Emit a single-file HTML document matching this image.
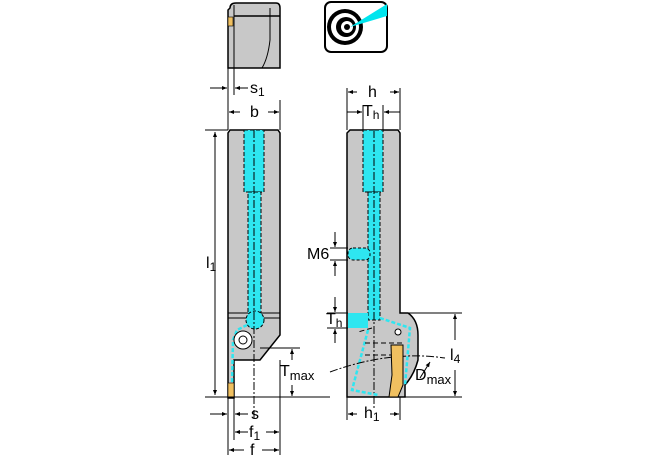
<!DOCTYPE html>
<html><head><meta charset="utf-8"><style>
html,body{margin:0;padding:0;background:#fff;width:670px;height:460px;overflow:hidden}
svg{display:block}
text{font-family:"Liberation Sans",sans-serif;fill:#000}
</style></head><body>
<svg width="670" height="460" viewBox="0 0 670 460" xmlns="http://www.w3.org/2000/svg">
<defs>
<marker id="a" viewBox="0 0 10 10" refX="10" refY="5" markerWidth="7" markerHeight="5" orient="auto-start-reverse"><path d="M0,1 L10,5 L0,9z" fill="#000"/></marker>
</defs>
<g stroke="#000" stroke-width="1" fill="none">
<path d="M230,8 Q230,3 236,3 L276,3 Q280,3 280,8 L280,68 L228,68 L228,10z" fill="#c8c8c8" stroke-width="1.5"/>
<line x1="234" y1="5" x2="234" y2="68"/>
<line x1="234" y1="16" x2="280" y2="16" stroke-width="1.5"/>
<path d="M270,8 L270,40 Q268,58 262,68"/>
<rect x="228" y="17" width="5" height="9" fill="#f0c060" stroke-width="0.6"/>
<rect x="325" y="2" width="62" height="50" rx="6" fill="#fff" stroke-width="2"/>
<circle cx="345" cy="27" r="18" fill="#000" stroke="none"/>
<circle cx="345" cy="27" r="14" fill="#fff" stroke="none"/>
<circle cx="346" cy="27" r="10" fill="#000" stroke="none"/>
<circle cx="347" cy="27" r="6" fill="#fff" stroke="none"/>
<circle cx="347" cy="27" r="3" fill="#000" stroke="none"/>
<path d="M350,27 L387,4 L387,16z" fill="#00e5ee" stroke="none"/>

<path d="M230,130 L278,130 L280,133 L280,335 L260,360 L234,360 L234,398 L228,398 L228,133z" fill="#c8c8c8" stroke-width="1.5"/>
<line x1="228" y1="313" x2="280" y2="313"/><line x1="228" y1="318" x2="280" y2="318"/>
<rect x="244" y="130" width="20" height="62" fill="#2ee6f0" stroke-dasharray="4,2"/>
<rect x="248" y="192" width="13" height="122" fill="#2ee6f0" stroke-dasharray="4,2"/>
<circle cx="255" cy="320" r="9" fill="#2ee6f0" stroke-dasharray="3,2"/>
<line x1="254" y1="130" x2="254" y2="420" stroke-dasharray="8,2,2,2"/>
<path d="M247,325 L237,330 L233,340 L232,385" stroke="#2ee6f0" stroke-width="2.5" stroke-dasharray="4,2"/>
<circle cx="243" cy="340" r="9" fill="#fff"/><circle cx="243" cy="340" r="4" fill="#fff"/>
<rect x="228" y="383" width="6" height="14" fill="#f0c060" stroke-width="0.6"/>

<line x1="205" y1="130" x2="228" y2="130"/><line x1="205" y1="397" x2="330" y2="397"/>
<line x1="215" y1="132" x2="215" y2="395" marker-start="url(#a)" marker-end="url(#a)"/>
<line x1="228" y1="68" x2="228" y2="130"/><line x1="234" y1="68" x2="234" y2="95"/><line x1="280" y1="100" x2="280" y2="130"/>
<line x1="210" y1="88" x2="227" y2="88" marker-end="url(#a)"/><line x1="248" y1="88" x2="235" y2="88" marker-end="url(#a)"/>
<line x1="240" y1="112" x2="229" y2="112" marker-end="url(#a)"/><line x1="268" y1="112" x2="279" y2="112" marker-end="url(#a)"/>
<line x1="260" y1="348" x2="300" y2="348"/>
<line x1="292" y1="360" x2="292" y2="349" marker-end="url(#a)"/><line x1="292" y1="385" x2="292" y2="396" marker-end="url(#a)"/>
<line x1="228" y1="397" x2="228" y2="455"/><line x1="234" y1="397" x2="234" y2="440"/><line x1="280" y1="360" x2="280" y2="455"/>
<line x1="210" y1="414" x2="227" y2="414" marker-end="url(#a)"/><line x1="248" y1="414" x2="235" y2="414" marker-end="url(#a)"/>
<line x1="248" y1="432" x2="235" y2="432" marker-end="url(#a)"/><line x1="266" y1="432" x2="279" y2="432" marker-end="url(#a)"/>
<line x1="244" y1="450" x2="229" y2="450" marker-end="url(#a)"/><line x1="262" y1="450" x2="279" y2="450" marker-end="url(#a)"/>

<path d="M350,130 L398,130 L400,133 L400,313 L408,313 Q418,320 418,335 L418,360 Q414,375 405,385 L405,397 L347,397 L347,133z" fill="#c8c8c8" stroke-width="1.5"/>
<rect x="363" y="130" width="20" height="62" fill="#2ee6f0" stroke-dasharray="4,2"/>
<rect x="368" y="192" width="12" height="128" fill="#2ee6f0" stroke-dasharray="4,2"/>
<rect x="348" y="248" width="22" height="12" rx="5" fill="#2ee6f0" stroke-dasharray="3,2"/>
<rect x="348" y="313" width="20" height="15" fill="#2ee6f0" stroke="none"/>
<line x1="374" y1="130" x2="374" y2="410" stroke-dasharray="8,2,2,2"/>
<path d="M380,318 L410,328 L405,385 M368,330 L352,390 L378,395" stroke="#2ee6f0" stroke-width="2.5" stroke-dasharray="4,2"/>
<path d="M372,328 L358,332 M365,343 L405,343 M365,355 L400,355" stroke-dasharray="5,3"/>
<path d="M330,372 Q390,350 445,358" stroke-dasharray="8,2,2,2"/>
<path d="M391,345 L403,345 L403,385 L398,397 L389,397 L392,375z" fill="#f0c060"/>
<circle cx="398" cy="332" r="3" fill="#fff"/>
<line x1="347" y1="88" x2="347" y2="130"/><line x1="400" y1="88" x2="400" y2="130"/>
<line x1="363" y1="105" x2="363" y2="130"/><line x1="383" y1="105" x2="383" y2="130"/>
<line x1="357" y1="92" x2="348" y2="92" marker-end="url(#a)"/><line x1="390" y1="92" x2="399" y2="92" marker-end="url(#a)"/>
<line x1="347" y1="112" x2="362" y2="112" marker-end="url(#a)"/><line x1="400" y1="112" x2="384" y2="112" marker-end="url(#a)"/>
<line x1="330" y1="248" x2="348" y2="248"/><line x1="330" y1="260" x2="348" y2="260"/>
<line x1="335" y1="232" x2="335" y2="247" marker-end="url(#a)"/><line x1="335" y1="276" x2="335" y2="261" marker-end="url(#a)"/>
<line x1="327" y1="313" x2="348" y2="313"/><line x1="327" y1="328" x2="348" y2="328"/>
<line x1="335" y1="297" x2="335" y2="312" marker-end="url(#a)"/><line x1="335" y1="343" x2="335" y2="329" marker-end="url(#a)"/>
<line x1="408" y1="313" x2="462" y2="313"/><line x1="405" y1="397" x2="462" y2="397"/>
<line x1="455" y1="340" x2="455" y2="314" marker-end="url(#a)"/><line x1="455" y1="370" x2="455" y2="396" marker-end="url(#a)"/>
<line x1="347" y1="397" x2="347" y2="420"/><line x1="400" y1="397" x2="400" y2="420"/>
<line x1="357" y1="414" x2="348" y2="414" marker-end="url(#a)"/><line x1="390" y1="414" x2="399" y2="414" marker-end="url(#a)"/>
<line x1="420" y1="378" x2="430" y2="362" marker-end="url(#a)"/>
</g>
<g font-size="16">
<text x="250" y="93">s<tspan font-size="12" dy="3">1</tspan></text>
<text x="250" y="117">b</text>
<text x="206" y="268">l<tspan font-size="12" dy="3">1</tspan></text>
<text x="280" y="376">T<tspan font-size="13" dy="4">max</tspan></text>
<text x="251" y="419">s</text>
<text x="249" y="437">f<tspan font-size="12" dy="3">1</tspan></text>
<text x="250" y="455">f</text>
<text x="368" y="97">h</text>
<text x="363" y="116">T<tspan font-size="12" dy="3">h</tspan></text>
<text x="307" y="259">M6</text>
<text x="326" y="324">T<tspan font-size="12" dy="3">h</tspan></text>
<text x="450" y="360">l<tspan font-size="12" dy="3">4</tspan></text>
<text x="415" y="380">D<tspan font-size="13" dy="4">max</tspan></text>
<text x="364" y="418">h<tspan font-size="12" dy="3">1</tspan></text>
</g>
</svg>
</body></html>
